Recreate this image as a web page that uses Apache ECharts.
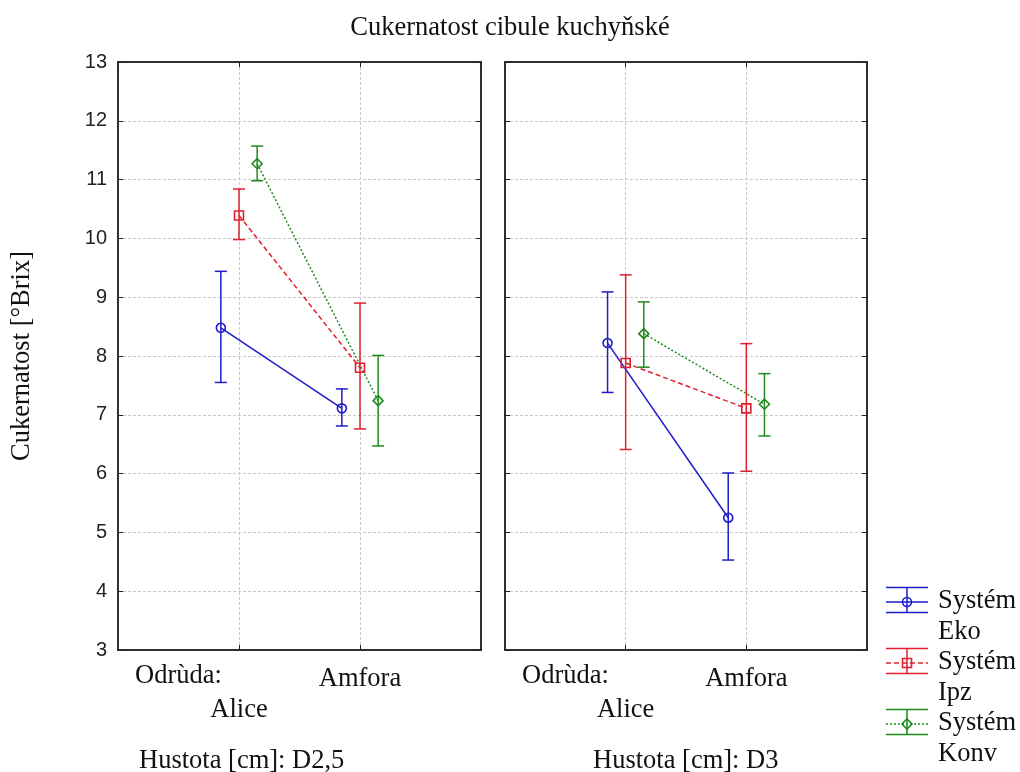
<!DOCTYPE html>
<html>
<head>
<meta charset="utf-8">
<script src="https://cdn.jsdelivr.net/npm/echarts@6/dist/echarts.min.js"></script>
<style>html,body{margin:0;padding:0;background:#fff}#c{width:1020px;height:772px}</style>
</head>
<body>
<div id="c"></div>
<script>
// ---- data ----
const chartTitle = 'Cukernatost cibule kuchyňské';
const yName = 'Cukernatost [°Brix]';
const factorLabel = 'Odrùda:';
const densityLabel = 'Hustota [cm]: ';
const categories = ['Alice', 'Amfora'];
const panels = ['D2,5', 'D3'];
const systems = ['Eko', 'Ipz', 'Konv'];
const yTicks = [3, 4, 5, 6, 7, 8, 9, 10, 11, 12, 13];

// panel D2,5
const ekoMeanD25 = [8.48, 7.11];
const ekoLowD25 = [7.55, 6.81];
const ekoHighD25 = [9.44, 7.44];
const ipzMeanD25 = [10.39, 7.80];
const ipzLowD25 = [9.98, 6.76];
const ipzHighD25 = [10.84, 8.90];
const konvMeanD25 = [11.27, 7.24];
const konvLowD25 = [10.98, 6.47];
const konvHighD25 = [11.57, 8.01];
// panel D3
const ekoMeanD3 = [8.22, 5.25];
const ekoLowD3 = [7.38, 4.53];
const ekoHighD3 = [9.09, 6.01];
const ipzMeanD3 = [7.88, 7.11];
const ipzLowD3 = [6.41, 6.04];
const ipzHighD3 = [9.38, 8.21];
const konvMeanD3 = [8.38, 7.18];
const konvLowD3 = [7.81, 6.64];
const konvHighD3 = [8.92, 7.70];

// ---- styling ----
const colors = ['#1c1cc8', '#e0202e', '#1e8a1e'];
const symbols = ['circle', 'rect', 'diamond'];
const symbolSizes = [9, 9, 10];
const lineTypes = ['solid', [5, 3], [2, 2]];
const offsets = [-0.15, 0, 0.15];
const serif = 'Liberation Serif';
const fs = 26.5;
const font = fs + 'px "Liberation Serif"';

const dataByPanel = [
  {mean: [ekoMeanD25, ipzMeanD25, konvMeanD25], low: [ekoLowD25, ipzLowD25, konvLowD25], high: [ekoHighD25, ipzHighD25, konvHighD25]},
  {mean: [ekoMeanD3, ipzMeanD3, konvMeanD3], low: [ekoLowD3, ipzLowD3, konvLowD3], high: [ekoHighD3, ipzHighD3, konvHighD3]}
];

const gridDefs = [
  {left: 118, top: 62, right: 539, bottom: 122},
  {left: 505, top: 62, right: 153, bottom: 122}
];

const gridLineStyle = {color: '#c8c8c8', type: [3, 2], width: 1};
const axisLineStyle = {color: '#222', width: 1.5};

const grids = gridDefs.map(g => Object.assign({show: true, borderColor: '#222', borderWidth: 1.5, backgroundColor: '#fff'}, g));
const xAxes = [];
const yAxes = [];
gridDefs.forEach((g, p) => {
  xAxes.push({
    type: 'value', gridIndex: p, min: 0, max: 3, interval: 1, position: 'bottom',
    axisLine: {show: true, onZero: false, lineStyle: axisLineStyle},
    axisTick: {show: true, inside: true, length: 5, lineStyle: {color: '#222'}},
    splitLine: {show: true, showMinLine: false, showMaxLine: false, lineStyle: gridLineStyle},
    axisLabel: {
      show: true, margin: 14, fontFamily: serif, fontSize: fs, color: '#111', lineHeight: 31,
      showMinLabel: false, showMaxLabel: false,
      formatter: v => {
        const i = Math.round(v) - 1;
        if (i === 0) return ' \n' + categories[0];
        if (i === 1) return categories[1] + '\n ';
        return '';
      }
    }
  });
  xAxes.push({
    type: 'value', gridIndex: p, min: 0, max: 3, interval: 1, position: 'top',
    axisLine: {show: true, onZero: false, lineStyle: axisLineStyle},
    axisTick: {show: true, inside: true, length: 5, lineStyle: {color: '#222'}},
    splitLine: {show: false}, axisLabel: {show: false}
  });
  yAxes.push({
    type: 'value', gridIndex: p, min: 3, max: 13, interval: 1, position: 'left',
    name: p === 0 ? yName : '', nameLocation: 'middle', nameGap: 82,
    nameTextStyle: {fontFamily: serif, fontSize: fs, color: '#111'},
    axisLine: {show: true, onZero: false, lineStyle: axisLineStyle},
    axisTick: {show: true, inside: true, length: 5, lineStyle: {color: '#222'}},
    splitLine: {show: true, showMinLine: false, showMaxLine: false, lineStyle: gridLineStyle},
    axisLabel: {show: p === 0, margin: 11, fontFamily: 'Liberation Sans', fontSize: 20, color: '#222',
      formatter: v => yTicks.includes(v) ? String(v) : ''}
  });
  yAxes.push({
    type: 'value', gridIndex: p, min: 3, max: 13, interval: 1, position: 'right',
    axisLine: {show: true, onZero: false, lineStyle: axisLineStyle},
    axisTick: {show: true, inside: true, length: 5, lineStyle: {color: '#222'}},
    splitLine: {show: false}, axisLabel: {show: false}
  });
});

function errRenderer(color) {
  return function (params, api) {
    const x = api.value(0), lo = api.value(1), hi = api.value(2);
    const a = api.coord([x, lo]), b = api.coord([x, hi]);
    const hw = 6;
    const st = {stroke: color, lineWidth: 1.5, fill: null};
    return {
      type: 'group',
      children: [
        {type: 'line', shape: {x1: a[0], y1: a[1], x2: b[0], y2: b[1]}, style: st},
        {type: 'line', shape: {x1: a[0] - hw, y1: a[1], x2: a[0] + hw, y2: a[1]}, style: st},
        {type: 'line', shape: {x1: b[0] - hw, y1: b[1], x2: b[0] + hw, y2: b[1]}, style: st}
      ]
    };
  };
}

const series = [];
dataByPanel.forEach((d, p) => {
  systems.forEach((s, k) => {
    const xs = categories.map((c, i) => i + 1 + offsets[k]);
    series.push({
      type: 'custom', name: 'Systém ' + s + ' err', xAxisIndex: p * 2, yAxisIndex: p * 2,
      renderItem: errRenderer(colors[k]), z: 3, silent: true,
      encode: {x: 0, y: [1, 2]},
      data: xs.map((x, i) => [x, d.low[k][i], d.high[k][i]])
    });
    series.push({
      type: 'line', name: 'Systém ' + s, xAxisIndex: p * 2, yAxisIndex: p * 2, z: 4,
      symbol: symbols[k], symbolSize: symbolSizes[k], showSymbol: true,
      lineStyle: {color: colors[k], width: 1.5, type: lineTypes[k]},
      itemStyle: {color: 'rgba(255,255,255,0)', borderColor: colors[k], borderWidth: 1.6},
      data: xs.map((x, i) => [x, d.mean[k][i]])
    });
  });
});

// graphic texts and legend
const graphics = [];
const factorX = [135, 522];
const densityX = [139, 593];
panels.forEach((pn, p) => {
  graphics.push({type: 'text', left: factorX[p], top: 663, style: {text: factorLabel, font: font, fill: '#111'}});
  graphics.push({type: 'text', left: densityX[p], top: 748, style: {text: densityLabel + pn, font: font, fill: '#111'}});
});
systems.forEach((s, k) => {
  const mid = 602 + k * 61;
  const x0 = 886, x1 = 928, xc = 907;
  const top = mid - 14.5, bot = mid + 10.5;
  const st = {stroke: colors[k], lineWidth: 1.5};
  graphics.push({type: 'line', shape: {x1: x0, y1: top, x2: x1, y2: top}, style: st});
  graphics.push({type: 'line', shape: {x1: x0, y1: bot, x2: x1, y2: bot}, style: st});
  graphics.push({type: 'line', shape: {x1: xc, y1: top, x2: xc, y2: bot}, style: st});
  graphics.push({type: 'line', shape: {x1: x0, y1: mid, x2: x1, y2: mid}, style: {stroke: colors[k], lineWidth: 1.5, lineDash: lineTypes[k] === 'solid' ? null : lineTypes[k]}});
  let marker;
  if (k === 0) marker = {type: 'circle', shape: {cx: xc, cy: mid, r: 4.5}};
  else if (k === 1) marker = {type: 'rect', shape: {x: xc - 4.5, y: mid - 4.5, width: 9, height: 9}};
  else marker = {type: 'polygon', shape: {points: [[xc, mid - 5], [xc + 5, mid], [xc, mid + 5], [xc - 5, mid]]}};
  marker.style = {stroke: colors[k], fill: 'rgba(255,255,255,0)', lineWidth: 1.6};
  graphics.push(marker);
  graphics.push({type: 'text', left: 938, top: mid - 16, style: {text: 'Systém\n' + s, font: font, fill: '#111', lineHeight: 31}});
});

const chart = echarts.init(document.getElementById('c'), null, {renderer: 'canvas'});
chart.setOption({
  animation: false,
  backgroundColor: '#fff',
  title: {text: chartTitle, left: 'center', top: 10, textStyle: {fontFamily: serif, fontSize: fs, fontWeight: 'normal', color: '#111'}},
  grid: grids,
  xAxis: xAxes,
  yAxis: yAxes,
  series: series,
  graphic: graphics
});
</script>
</body>
</html>
